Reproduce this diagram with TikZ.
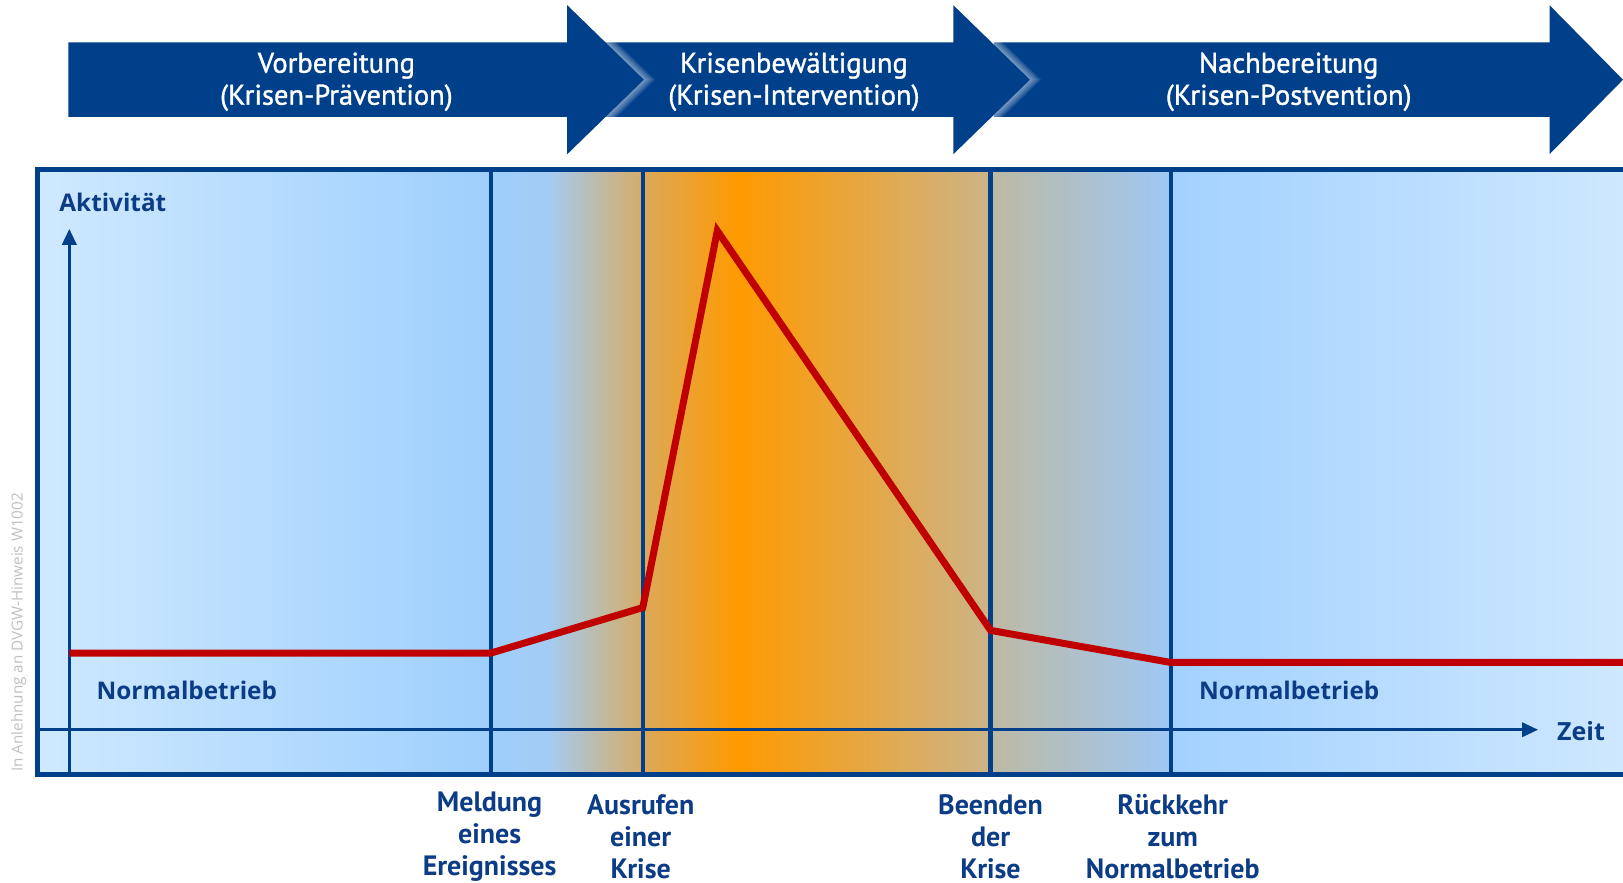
\documentclass[tikz,border=0pt]{standalone}
\usepackage{fontspec}
\setmainfont{PT Sans}
\newfontfamily\condfont{PT Sans}
\newfontfamily\arrowfont{PT Sans}[FakeBold=1.2]
\newfontfamily\widefont{Open Sans}
\usetikzlibrary{arrows.meta}
\definecolor{dblue}{RGB}{0,63,138}
\definecolor{tblue}{RGB}{12,60,134}
\definecolor{cred}{RGB}{192,0,0}
\definecolor{bgL}{RGB}{207,233,255}
\definecolor{bgA}{RGB}{158,207,253}
\definecolor{bgB}{RGB}{164,203,242}
\definecolor{tanA}{RGB}{214,172,102}
\definecolor{tanB}{RGB}{219,169,90}
\definecolor{orng}{RGB}{255,154,0}
\definecolor{tanC}{RGB}{204,180,136}
\definecolor{greyC}{RGB}{190,185,163}
\definecolor{bgC}{RGB}{158,200,245}
\definecolor{bgD}{RGB}{163,209,255}
\definecolor{bgR}{RGB}{206,232,255}
\tikzset{
  atext/.style={text=white, font=\arrowfont\fontsize{28.5}{32}\selectfont, align=center},
  blabel/.style={text=tblue, font=\condfont\bfseries\fontsize{28}{32}\selectfont, align=center, inner sep=0pt},
  wlabel/.style={text=tblue, font=\widefont\bfseries\fontsize{24.3}{28}\selectfont},
  divider/.style={draw=dblue, line width=4.2pt},
  axisline/.style={draw=dblue, line width=3.4pt, -{Triangle[width=14pt,length=16pt]}},
  curve/.style={draw=cred, line width=7pt},
  glow/.style={draw=white, opacity=0.075},
}
\begin{document}
\begin{tikzpicture}[x=1.035pt,y=-1.035pt]
\useasboundingbox (0,0) rectangle (1568,853);
% background shadings
\shade[left color=bgL, right color=bgA] (36,164) rectangle (474.5,748);
\shade[left color=bgA, right color=bgB] (474,164) rectangle (530.5,748);
\shade[left color=bgB, right color=tanA] (530,164) rectangle (621.5,748);
\shade[left color=tanB, right color=orng] (621,164) rectangle (712.5,748);
\shade[left color=orng, right color=tanC] (712,164) rectangle (957.5,748);
\shade[left color=greyC, right color=bgC] (957,164) rectangle (1131.5,748);
\shade[left color=bgD, right color=bgR] (1131,164) rectangle (1568,748);
% phase arrows
\fill[dblue] (960,41) -- (1497,41) -- (1497,5) -- (1568,77) -- (1497,149) -- (1497,113) -- (960,113) -- cycle;
\begin{scope}
  \clip (940,41) rectangle (1100,113);
  \foreach \w in {2,4,...,16} \draw[glow, line width=\w pt] (958,41) -- (995,77) -- (958,113);
\end{scope}
\fill[dblue] (560,41) -- (921,41) -- (921,5) -- (995,77) -- (921,149) -- (921,113) -- (560,113) -- cycle;
\begin{scope}
  \clip (570,41) rectangle (720,113);
  \foreach \w in {2,4,...,16} \draw[glow, line width=\w pt] (585,41) -- (622,77) -- (585,113);
\end{scope}
\fill[dblue] (66,41) -- (548,41) -- (548,5) -- (622,77) -- (548,149) -- (548,113) -- (66,113) -- cycle;
\node[atext] (a1) at (325,79) {Vorbereitung\\(Krisen-Prävention)};
\node[atext] (a2) at (767,79) {Krisenbewältigung\\(Krisen-Intervention)};
\node[atext] (a3) at (1245,79) {Nachbereitung\\(Krisen-Postvention)};
% coordinates
\coordinate (t1) at (474,164); \coordinate (b1) at (474,748);
\coordinate (t2) at (621,164); \coordinate (b2) at (621,748);
\coordinate (t3) at (957,164); \coordinate (b3) at (957,748);
\coordinate (t4) at (1131,164); \coordinate (b4) at (1131,748);
\draw[divider] (t1) -- (b1);
\draw[divider] (t2) -- (b2);
\draw[divider] (t3) -- (b3);
\draw[divider] (t4) -- (b4);
% axes
\coordinate (xs) at (36,705); \coordinate (xe) at (1486,705);
\coordinate (ys) at (67,748); \coordinate (ye) at (67,221);
\draw[axisline] (xs) -- (xe);
\draw[axisline] (ys) -- (ye);
% frame
\draw[dblue, line width=5pt] (36,164) rectangle (1580,748);
% curve
\coordinate (p0) at (67,631);
\coordinate (p1) at (474,631);
\coordinate (p2) at (621,587);
\coordinate (p3) at (693,223);
\coordinate (p4) at (957,609);
\coordinate (p5) at (1131,640);
\coordinate (p6) at (1575,640);
\draw[curve] (p0) -- (p1) -- (p2) -- (p3) -- (p4) -- (p5) -- (p6);
% labels
\node[wlabel, anchor=west] (akt) at (54,196) {Aktivität};
\node[wlabel, anchor=west] (nb1) at (90,667) {Normalbetrieb};
\node[wlabel, anchor=west] (nb2) at (1155,667) {Normalbetrieb};
\node[wlabel, anchor=west, font=\widefont\bfseries\fontsize{25}{28}\selectfont] (zeit) at (1501,706) {Zeit};
\node[blabel] (l1) at (473,808) {Meldung\\eines\\Ereignisses};
\node[blabel] (l2) at (619,808) {Ausrufen\\einer\\Krise};
\node[blabel] (l3) at (957,808) {Beenden\\der\\Krise};
\node[blabel] (l4) at (1133,808) {Rückkehr\\zum\\Normalbetrieb};
\node[rotate=90, text=black!25, font=\widefont\fontsize{15.2}{17}\selectfont] (src) at (18,611) {In Anlehnung an DVGW-Hinweis W1002};
\end{tikzpicture}
\end{document}
